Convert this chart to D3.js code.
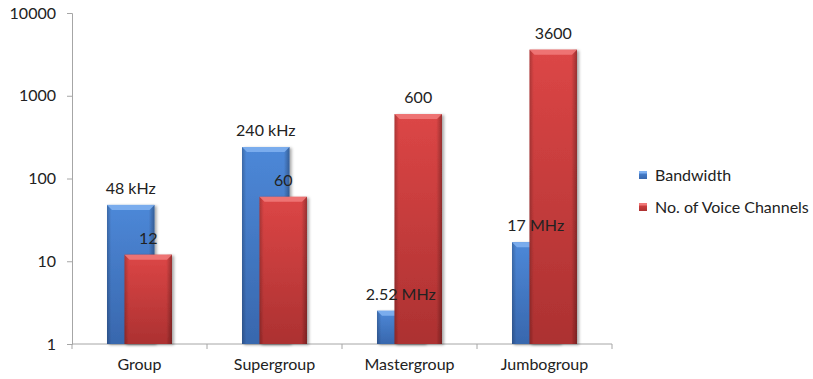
<!DOCTYPE html>
<html>
<head>
<meta charset="utf-8">
<script src="https://cdn.jsdelivr.net/npm/d3@7"></script>
<style>
html,body{margin:0;padding:0;background:#fff;}
svg{display:block;font-family:Lato,"Open Sans",sans-serif;}
</style>
</head>
<body>
<svg id="chart" width="813" height="379"></svg>
<script>
const categories = ["Group", "Supergroup", "Mastergroup", "Jumbogroup"];
const seriesNames = ["Bandwidth", "No. of Voice Channels"];
const bandwidth = [48, 240, 2.52, 17];
const voiceChannels = [12, 60, 600, 3600];
const bandwidthLabels = ["48 kHz", "240 kHz", "2.52 MHz", "17 MHz"];
const voiceLabels = ["12", "60", "600", "3600"];
const yTicks = [1, 10, 100, 1000, 10000];

(function () {
const svg = d3.select("#chart");
const mLeft = 72, mRight = 612, mTop = 13, mBottom = 344;
const fs = "16px";

const x = d3.scaleBand().domain(categories).range([mLeft, mRight]).padding(0);
const y = d3.scaleLog().domain([1, 10000]).range([mBottom, mTop]);

const defs = svg.append("defs");
function grads(id, light, dark) {
  const g = defs.append("linearGradient").attr("id", id).attr("x1", 0).attr("y1", 0).attr("x2", 0).attr("y2", 1);
  g.append("stop").attr("offset", "0%").attr("stop-color", light);
  g.append("stop").attr("offset", "100%").attr("stop-color", dark);
  const h = defs.append("linearGradient").attr("id", id + "h").attr("x1", 0).attr("y1", 0).attr("x2", 1).attr("y2", 0);
  h.append("stop").attr("offset", "0%").attr("stop-color", "#000").attr("stop-opacity", 0.22);
  h.append("stop").attr("offset", "9%").attr("stop-color", "#000").attr("stop-opacity", 0.0);
  h.append("stop").attr("offset", "88%").attr("stop-color", "#000").attr("stop-opacity", 0.0);
  h.append("stop").attr("offset", "100%").attr("stop-color", "#000").attr("stop-opacity", 0.3);
}
grads("gb", "#4d88d8", "#3867ad");
grads("gr", "#dc4646", "#ac3131");
const flt = defs.append("filter").attr("id", "sh").attr("x", "-20%").attr("y", "-5%").attr("width", "150%").attr("height", "115%");
flt.append("feDropShadow").attr("dx", 2).attr("dy", 1).attr("stdDeviation", 1.5).attr("flood-color", "#000").attr("flood-opacity", 0.35);

const yAxis = svg.append("g").attr("transform", `translate(${mLeft},0)`)
  .call(d3.axisLeft(y).tickValues(yTicks).tickFormat(d3.format("d")).tickSize(5).tickPadding(11));
yAxis.select(".domain").attr("stroke", "#a6a6a6");
yAxis.selectAll(".tick line").attr("stroke", "#a6a6a6");
yAxis.selectAll(".tick text").attr("font-size", fs).attr("fill", "#222").attr("font-family", "Lato");

const xg = svg.append("g");
xg.append("line").attr("x1", mLeft).attr("x2", mRight).attr("y1", mBottom).attr("y2", mBottom).attr("stroke", "#a6a6a6");
const bounds = categories.map(c => x(c)).concat([mRight]);
xg.selectAll("line.t").data(bounds).enter().append("line").attr("class", "t")
  .attr("x1", d => d).attr("x2", d => d).attr("y1", mBottom).attr("y2", mBottom + 5).attr("stroke", "#a6a6a6");
xg.selectAll("text").data(categories).enter().append("text")
  .attr("x", d => x(d) + x.bandwidth() / 2).attr("y", mBottom + 26)
  .attr("text-anchor", "middle").attr("font-size", fs).attr("fill", "#222").text(d => d);

const barW = 47.5, off = 17.5;
function drawBar(g, x0, v, fill, bevel) {
  const yt = y(v), h = mBottom - yt;
  const bg = g.append("g").attr("filter", "url(#sh)");
  bg.append("rect").attr("x", x0).attr("y", yt).attr("width", barW).attr("height", h).attr("fill", `url(#${fill})`);
  bg.append("rect").attr("x", x0).attr("y", yt).attr("width", barW).attr("height", h).attr("fill", `url(#${fill}h)`);
  const b = Math.min(5, h / 2);
  g.append("polygon").attr("points", [[x0, yt], [x0 + barW, yt], [x0 + barW - b, yt + b], [x0 + b, yt + b]].map(p => p.join(",")).join(" "))
    .attr("fill", bevel).attr("opacity", 0.9);
}
const bars = svg.append("g");
categories.forEach((c, i) => {
  const cx = x(c) + x.bandwidth() / 2;
  const bx = cx - (barW + off) / 2;
  drawBar(bars, bx, bandwidth[i], "gb", "#7fb0f0");
});
categories.forEach((c, i) => {
  const cx = x(c) + x.bandwidth() / 2;
  const rx = cx - (barW + off) / 2 + off;
  drawBar(bars, rx, voiceChannels[i], "gr", "#f07878");
});

const labels = svg.append("g").attr("font-size", fs).attr("fill", "#222").attr("text-anchor", "middle");
categories.forEach((c, i) => {
  const cx = x(c) + x.bandwidth() / 2;
  const bx = cx - (barW + off) / 2;
  labels.append("text").attr("x", bx + barW / 2).attr("y", y(bandwidth[i]) - 11).text(bandwidthLabels[i]);
  labels.append("text").attr("x", bx + off + barW / 2).attr("y", y(voiceChannels[i]) - 11).text(voiceLabels[i]);
});

const lg = svg.append("g").attr("transform", "translate(639,171)");
const leg = [["gb", "#7fb0f0"], ["gr", "#f07878"]];
seriesNames.forEach((n, i) => {
  const gg = lg.append("g").attr("transform", `translate(0,${i * 32})`);
  gg.append("rect").attr("width", 8).attr("height", 8).attr("fill", `url(#${leg[i][0]})`);
  gg.append("rect").attr("width", 8).attr("height", 2.5).attr("fill", leg[i][1]);
  gg.append("text").attr("x", 16).attr("y", 9.5).attr("font-size", fs).attr("fill", "#222").text(n);
});
})();
</script>
</body>
</html>
